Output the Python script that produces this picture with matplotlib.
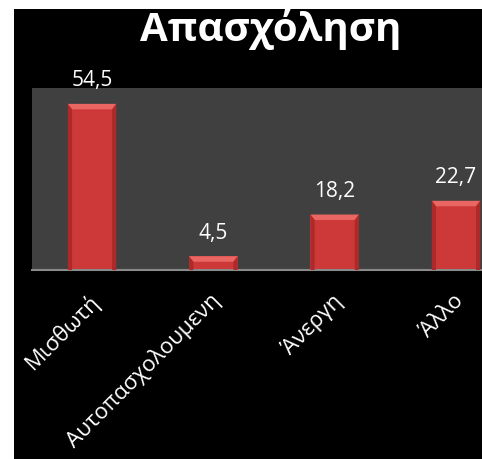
import matplotlib.pyplot as plt
import matplotlib.transforms as mtransforms
from matplotlib.patches import Rectangle, Polygon

categories = ['Μισθωτή', 'Αυτοπασχολουμενη', 'Άνεργη', 'Άλλο']
values = [54.5, 4.5, 18.2, 22.7]
value_labels = ['54,5', '4,5', '18,2', '22,7']
title = 'Απασχόληση'

plt.rcParams['font.family'] = ['Open Sans', 'DejaVu Sans']

fig = plt.figure(figsize=(4.82, 4.59), dpi=100)
fig.patch.set_facecolor('white')
# black slide background, leaving a thin white margin top and left
fig.patches.append(Rectangle((14 / 482, 0), 1, 1 - 9 / 459,
                             transform=fig.transFigure, facecolor='black',
                             edgecolor='none', zorder=-5))

ax = fig.add_axes([32 / 482, 189 / 459, 450 / 482, 182 / 459])
ax.set_facecolor('#404040')

x = list(range(len(categories)))
bars = ax.bar(x, values, width=0.40, color='#cd3838', edgecolor='none', zorder=2)

# bevel: light trapezoid on top, darker strips at the sides
bw = 0.035
bh = 1.8
for rect in bars:
    x0, y0 = rect.get_x(), rect.get_y()
    w, h = rect.get_width(), rect.get_height()
    top = y0 + h
    ax.add_patch(Polygon([(x0, top), (x0 + w, top), (x0 + w - bw, top - bh),
                          (x0 + bw, top - bh)], closed=True,
                         facecolor='#ea6662', edgecolor='none', zorder=3))
    ax.add_patch(Polygon([(x0, y0), (x0, top), (x0 + bw, top - bh),
                          (x0 + bw, y0)], closed=True,
                         facecolor='#ad2a2a', edgecolor='none', zorder=3))
    ax.add_patch(Polygon([(x0 + w, y0), (x0 + w, top), (x0 + w - bw, top - bh),
                          (x0 + w - bw, y0)], closed=True,
                         facecolor='#ad2a2a', edgecolor='none', zorder=3))

for xi, v, lab in zip(x, values, value_labels):
    ax.annotate(lab, (xi, v), xytext=(0, 9), textcoords='offset points',
                ha='center', va='bottom', color='white', fontsize=15,
                clip_on=False)

ax.set_xlim(-0.495, 3.214)
ax.set_ylim(0, 59.7)
ax.set_yticks([])
ax.set_xticks(x)
ax.set_xticklabels(categories, rotation=45, ha='right', va='center',
                   rotation_mode='anchor', color='white', fontsize=16)
ax.tick_params(axis='x', length=0, pad=20)
shift = mtransforms.ScaledTranslation(3 / 72, 0, fig.dpi_scale_trans)
for lbl in ax.get_xticklabels():
    lbl.set_transform(lbl.get_transform() + shift)

for side in ['top', 'right', 'left']:
    ax.spines[side].set_visible(False)
ax.spines['bottom'].set_color('#8a8a8a')
ax.spines['bottom'].set_linewidth(1.5)

fig.text(271 / 482, 1 - 9 / 459, title, ha='center', va='top',
         color='white', fontsize=29, fontweight='bold')

fig.savefig('out.png', dpi=100, facecolor=fig.get_facecolor())
